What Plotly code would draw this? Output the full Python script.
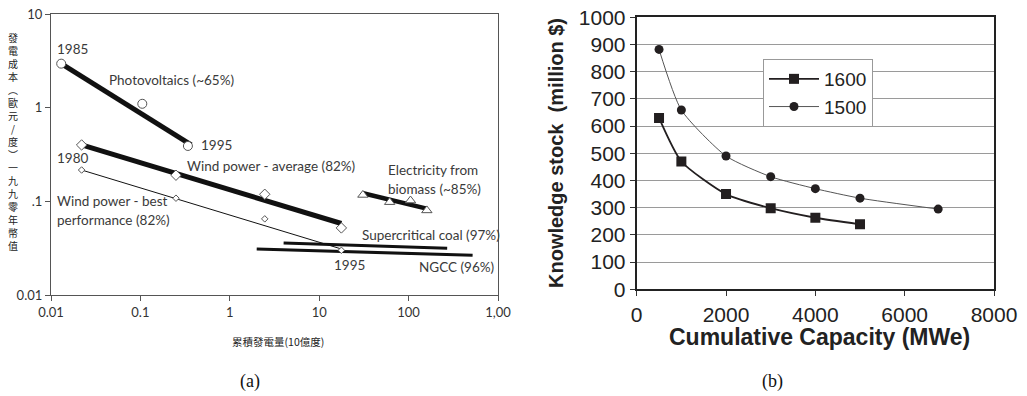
import plotly.graph_objects as go

# ---------------- data: panel (a) ----------------
pv_x = [0.013, 0.105, 0.34]
pv_y = [2.95, 1.1, 0.39]
pv_fit_x = [0.013, 0.37]
pv_fit_y = [2.95, 0.40]

wind_avg_x = [0.022, 0.25, 2.46, 17.7]
wind_avg_y = [0.40, 0.19, 0.119, 0.052]
wind_avg_fit_x = [0.022, 17.7]
wind_avg_fit_y = [0.40, 0.058]

wind_best_x = [0.022, 0.25, 2.46, 17.7]
wind_best_y = [0.216, 0.108, 0.065, 0.030]
wind_best_fit_x = [0.022, 17.7]
wind_best_fit_y = [0.216, 0.031]

bio_x = [30.8, 61.4, 105, 160]
bio_y = [0.117, 0.098, 0.102, 0.080]
bio_fit_x = [31, 155]
bio_fit_y = [0.122, 0.084]

coal_x = [4, 270]
coal_y = [0.036, 0.0316]

ngcc_x = [2, 520]
ngcc_y = [0.031, 0.0265]

a_xtickvals = [0.01, 0.1, 1, 10, 100, 1000]
a_xticktext = ["0.01", "0.1", "1", "10", "100", "1,00"]
a_ytickvals = [0.01, 0.1, 1, 10]
a_yticktext = ["0.01", ".1", "1", "10"]

# ---------------- data: panel (b) ----------------
cap_1600 = [500, 1000, 2000, 3000, 4000, 5000]
ks_1600 = [630, 470, 350, 298, 263, 239]
cap_1500 = [500, 1000, 2000, 3000, 4000, 5000, 6750]
ks_1500 = [882, 659, 490, 414, 370, 335, 295]

W, H = 1027, 396


def px(x):
    return x / W


def py(y):
    return 1 - y / H


fig = go.Figure()

LINE = "#111111"
MK = "#555555"


def fit(x, y, w):
    fig.add_trace(go.Scatter(x=x, y=y, mode="lines", line=dict(color=LINE, width=w),
                             xaxis="x", yaxis="y", showlegend=False, hoverinfo="skip"))


def pts(x, y, sym, size):
    fig.add_trace(go.Scatter(x=x, y=y, mode="markers",
                             marker=dict(symbol=sym, size=size, color="white",
                                         line=dict(color=MK, width=1)),
                             xaxis="x", yaxis="y", showlegend=False, hoverinfo="skip"))


fit(pv_fit_x, pv_fit_y, 5)
fit(wind_avg_fit_x, wind_avg_fit_y, 5)
fit(wind_best_fit_x, wind_best_fit_y, 1)
fit(bio_fit_x, bio_fit_y, 4.5)
fit(coal_x, coal_y, 3)
fit(ngcc_x, ngcc_y, 3)
pts(pv_x, pv_y, "circle", 9)
pts(wind_avg_x, wind_avg_y, "diamond", 8)
pts(wind_best_x, wind_best_y, "diamond", 5)
pts(bio_x, bio_y, "triangle-up", 9)

# panel (b)
fig.add_trace(go.Scatter(x=cap_1600, y=ks_1600, name="1600", mode="lines+markers",
                         line=dict(color="#231f20", width=1.8, shape="spline", smoothing=0.6),
                         marker=dict(symbol="square", size=10, color="#231f20"),
                         xaxis="x2", yaxis="y2"))
fig.add_trace(go.Scatter(x=cap_1500, y=ks_1500, name="1500", mode="lines+markers",
                         line=dict(color="#555555", width=1, shape="spline", smoothing=0.6),
                         marker=dict(symbol="circle", size=9, color="#231f20"),
                         xaxis="x2", yaxis="y2"))

TXT = "#3a3a3a"
AF = dict(family="Lato", size=13.5, color=TXT)
ann = []


def label(text, x, y, xanchor="left", font=AF, **kw):
    ann.append(dict(text=text, x=px(x), y=py(y), xref="paper", yref="paper",
                    xanchor=xanchor, yanchor="middle", showarrow=False, font=font, **kw))


label("1985", 55, 49)
label("Photovoltaics (~65%)", 107, 80)
label("1995", 199, 145)
label("1980", 55, 158)
label("Wind power - average (82%)", 185, 166)
label("Wind power - best", 55, 201)
label("performance (82%)", 55, 220)
label("1995", 332, 265)
label("Electricity from", 386, 170)
label("biomass (~85%)", 386, 189)
label("Supercritical coal (97%)", 360, 235)
label("NGCC (96%)", 417, 267)

# axis titles
label("累積發電量(10億度)", 278, 341, xanchor="center",
      font=dict(family="Noto Sans CJK TC", size=10.5, color="#222"))
vchars = "發電成本︵歐元/度︶一九九零年幣值"
label("<br>".join(vchars), 13, 141, xanchor="center",
      font=dict(family="Noto Sans CJK TC", size=10, color="#222"))
label("<b>Cumulative Capacity (MWe)</b>", 819, 337, xanchor="center",
      font=dict(family="Liberation Sans", size=23, color="#222"))
label("<b>Knowledge stock  (million $)</b>", 556, 153, xanchor="center",
      font=dict(family="Liberation Sans", size=20, color="#222"), textangle=-90)
label("(a)", 250, 381, xanchor="center", font=dict(family="Liberation Serif", size=18, color="#111"))
label("(b)", 772, 381, xanchor="center", font=dict(family="Liberation Serif", size=18, color="#111"))

TF = dict(family="Lato", size=13, color="#333")
BF = dict(family="Liberation Sans", size=21, color="#222")

fig.update_layout(
    width=W, height=H,
    margin=dict(l=0, r=0, t=0, b=0, autoexpand=False),
    paper_bgcolor="white", plot_bgcolor="white",
    annotations=ann,
    xaxis=dict(type="log", range=[-2, 3], domain=[px(51), px(498)], anchor="y",
               tickvals=a_xtickvals, ticktext=a_xticktext, ticks="outside", ticklen=5,
               tickcolor="#555", showline=True, linecolor="#555", linewidth=1.2, mirror=True,
               showgrid=False, zeroline=False, tickfont=TF, automargin=False),
    yaxis=dict(type="log", range=[-2, 1], domain=[py(295), py(14)], anchor="x",
               tickvals=a_ytickvals, ticktext=a_yticktext, ticks="outside", ticklen=5,
               tickcolor="#555", showline=True, linecolor="#555", linewidth=1.2, mirror=True,
               showgrid=False, zeroline=False, tickfont=TF, automargin=False),
    xaxis2=dict(range=[0, 8000], domain=[px(636.7), px(994)], anchor="y2",
                tickvals=[0, 2000, 4000, 6000, 8000], ticks="outside", ticklen=5,
                tickcolor="#333", showline=True, linecolor="#222", linewidth=2, mirror=True,
                showgrid=False, zeroline=False, tickfont=BF, automargin=False),
    yaxis2=dict(range=[0, 1000], domain=[py(289.3), py(17.3)], anchor="x2",
                dtick=100, ticks="outside", ticklen=5, tickcolor="#333",
                showline=True, linecolor="#222", linewidth=2, mirror=True,
                showgrid=True, gridcolor="#9a9a9a", gridwidth=1, zeroline=False, tickfont=BF,
                automargin=False),
    showlegend=True,
    legend=dict(x=px(763), y=py(59), xanchor="left", yanchor="top",
                bordercolor="#999", borderwidth=1, bgcolor="white",
                font=dict(family="Liberation Sans", size=19, color="#222"),
                itemwidth=50, tracegroupgap=0),
)

fig.write_html(
    "out.html",
    config={"displayModeBar": False},
    post_script="document.body.style.margin='0';document.body.style.overflow='hidden';",
)
